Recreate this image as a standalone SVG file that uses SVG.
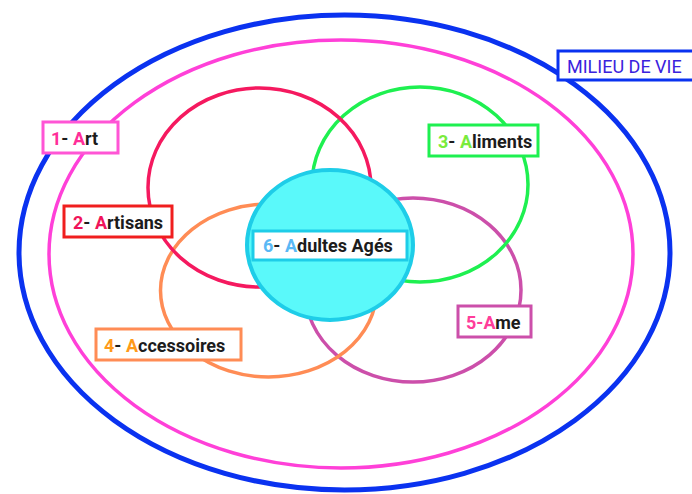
<svg xmlns="http://www.w3.org/2000/svg" width="692" height="494" viewBox="0 0 692 494">
<style>
  .ring{fill:none}
  .box{fill:#ffffff;stroke-width:3}
  .lbl{font-family:Roboto,"Liberation Sans",Arial,sans-serif;font-weight:bold;font-size:18px;fill:#1c1c1c}
  .milieu{font-family:Roboto,"Liberation Sans",Arial,sans-serif;font-size:18px;fill:#3a22dd}
</style>
<rect x="0" y="0" width="692" height="494" fill="#ffffff"/>
<g id="milieu-de-vie">
  <ellipse class="ring" cx="344.5" cy="252.5" rx="325.5" ry="237.5" stroke="#0a32f0" stroke-width="5"/>
</g>
<g id="art">
  <ellipse class="ring" cx="341" cy="254" rx="292" ry="214" stroke="#ff40d8" stroke-width="3.5"/>
</g>
<g id="ame">
  <ellipse class="ring" cx="413" cy="290" rx="108" ry="92" stroke="#cc4faa" stroke-width="3.5"/>
</g>
<g id="aliments">
  <ellipse class="ring" cx="420" cy="184.5" rx="108" ry="97.5" stroke="#1ef050" stroke-width="3.5"/>
</g>
<g id="accessoires">
  <ellipse class="ring" cx="268.5" cy="290.5" rx="108" ry="86.5" stroke="#ff8c55" stroke-width="3.5"/>
</g>
<g id="artisans">
  <ellipse class="ring" cx="259.5" cy="187.5" rx="111.5" ry="99.5" stroke="#f5195f" stroke-width="3.5"/>
</g>
<g id="adultes-ages">
  <ellipse cx="330" cy="245" rx="83" ry="75" fill="#5af9fa" stroke="#1ecde8" stroke-width="4"/>
  <rect class="box" x="253" y="231" width="154" height="29" stroke="#1ecde8"/>
  <text class="lbl" x="263" y="252"><tspan fill="#5ab8f5">6</tspan>- <tspan fill="#5ab8f5">A</tspan>dultes Agés</text>
</g>
<g id="labels">
  <g id="label-milieu">
    <rect class="box" x="558" y="51" width="140" height="29" stroke="#0a32f0"/>
    <text class="milieu" x="567" y="73">MILIEU DE VIE</text>
  </g>
  <g id="label-art">
    <rect class="box" x="43" y="122" width="75" height="31" stroke="#ff55d5"/>
    <text class="lbl" x="51" y="145"><tspan fill="#ff2e99">1</tspan>- <tspan fill="#ff2e99">A</tspan>rt</text>
  </g>
  <g id="label-artisans">
    <rect class="box" x="64" y="206" width="108" height="31" stroke="#f01e1e"/>
    <text class="lbl" x="73" y="229"><tspan fill="#f0145a">2</tspan>- <tspan fill="#f0145a">A</tspan>rtisans</text>
  </g>
  <g id="label-aliments">
    <rect class="box" x="429" y="125" width="109" height="31" stroke="#1ef050"/>
    <text class="lbl" x="438" y="148"><tspan fill="#7aeb3c">3</tspan>- <tspan fill="#7aeb3c">A</tspan>liments</text>
  </g>
  <g id="label-accessoires">
    <rect class="box" x="96" y="329" width="145" height="31" stroke="#ff8c55"/>
    <text class="lbl" x="104" y="352"><tspan fill="#ff9a1a">4</tspan>- <tspan fill="#ff9a1a">A</tspan>ccessoires</text>
  </g>
  <g id="label-ame">
    <rect class="box" x="458" y="306" width="73" height="31" stroke="#cc4faa"/>
    <text class="lbl" x="466" y="329"><tspan fill="#ff3d9a">5-A</tspan>me</text>
  </g>
</g>
<g id="connectors"/>
</svg>
